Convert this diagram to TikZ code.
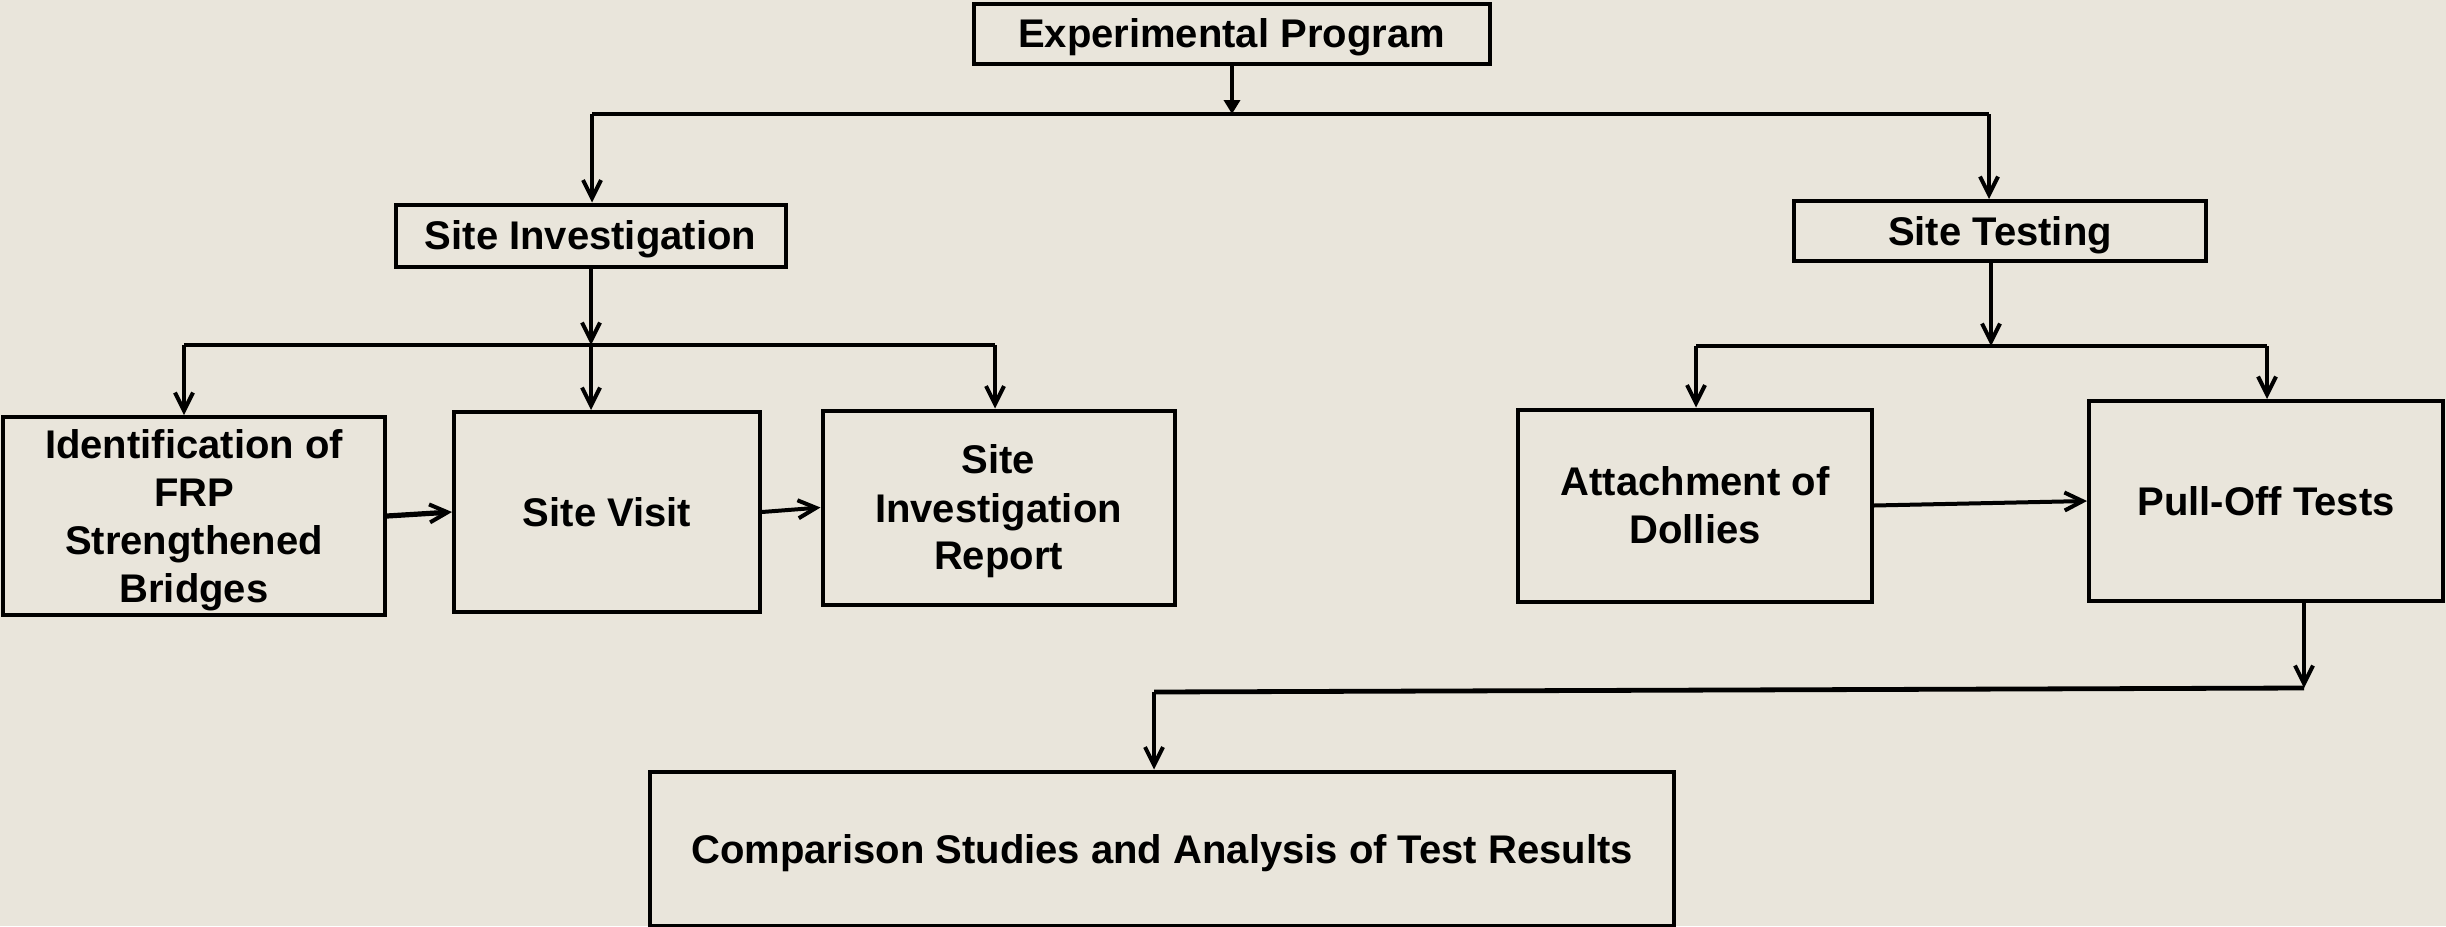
\documentclass[tikz,border=0pt]{standalone}
\usepackage{fontspec}
\setmainfont{Liberation Sans}
\usetikzlibrary{arrows.meta}
\definecolor{bgbeige}{RGB}{233,229,219}
\tikzset{
    box/.style={draw=black, line width=2pt, inner sep=2pt, align=center, text depth=0pt,
        font=\fontsize{20}{24}\selectfont\bfseries},
    arr/.style={line width=2pt, -{Straight Barb[length=9pt, width=9pt, line width=2pt]}},
    bar/.style={line width=2.4pt}
}
\begin{document}
\begin{tikzpicture}[x=0.5pt, y=-0.5pt]
        \useasboundingbox (0, 0) rectangle (2446, 926);
        \fill [bgbeige] (0, 0) rectangle (2446, 926);
        % boxes
        \node [box, minimum width=258pt, minimum height=30pt] (ep) at (1231.5, 33.5) {Experimental Program};
        \node [box, minimum width=195pt, minimum height=31pt] (si) at (590.5, 235.5) {Site Investigation};
        \node [box, minimum width=206pt, minimum height=30pt] (st) at (2000, 231) {Site Testing};
        \node [box, minimum width=191pt, minimum height=99pt] (id) at (194, 516) {Identification of\\FRP\\Strengthened\\Bridges};
        \node [box, minimum width=153pt, minimum height=100pt] (sv) at (607, 512) {Site Visit};
        \node [box, minimum width=176pt, minimum height=97pt] (sir) at (998.5, 507.5) {Site\\Investigation\\Report};
        \node [box, minimum width=177pt, minimum height=96pt] (att) at (1695, 505.5) {Attachment of\\Dollies};
        \node [box, minimum width=177pt, minimum height=100pt] (po) at (2266, 501) {Pull-Off Tests};
        \node [box, minimum width=512pt, minimum height=77pt] (cmp) at (1162, 848.5) {Comparison Studies and Analysis of Test Results};
        % junctions
        \coordinate (jtop) at (1232, 114);
        \coordinate (jtopL) at (592, 114);
        \coordinate (jtopR) at (1989, 114);
        \coordinate (jsi) at (591, 345);
        \coordinate (jsiL) at (184, 345);
        \coordinate (jsiR) at (995, 345);
        \coordinate (jst) at (1991, 346);
        \coordinate (jstL) at (1696, 346);
        \coordinate (jstR) at (2267, 346);
        \coordinate (jpo) at (2304, 688);
        \coordinate (jcmp) at (1154, 692);
        % top level
        \draw [line width=2.4pt, -{Triangle[length=7pt, width=8pt]}] (ep.south -| jtop) -- (jtop);
        \draw [bar] (jtopL) -- (jtopR);
        \draw [arr] (jtopL) -- (jtopL |- si.north);
        \draw [arr] (jtopR) -- (jtopR |- st.north);
        % site investigation
        \draw [arr] (si.south -| jsi) -- (jsi);
        \draw [bar] (jsiL) -- (jsiR);
        \draw [arr] (jsiL) -- (jsiL |- id.north);
        \draw [arr] (jsi) -- (jsi |- sv.north);
        \draw [arr] (jsiR) -- (jsiR |- sir.north);
        \draw [arr, line width=2.6pt] (id.east) -- (sv.west);
        \draw [arr] (sv.east) -- (sir.west);
        % site testing
        \draw [arr] (st.south -| jst) -- (jst);
        \draw [bar] (jstL) -- (jstR);
        \draw [arr] (jstL) -- (jstL |- att.north);
        \draw [arr] (jstR) -- (jstR |- po.north);
        \draw [arr] (att.east) -- (po.west);
        % results
        \draw [arr] (po.south -| jpo) -- (jpo);
        \draw [bar] (jpo) -- (jcmp);
        \draw [arr] (jcmp) -- (jcmp |- cmp.north);
    \end{tikzpicture}
\end{document}
